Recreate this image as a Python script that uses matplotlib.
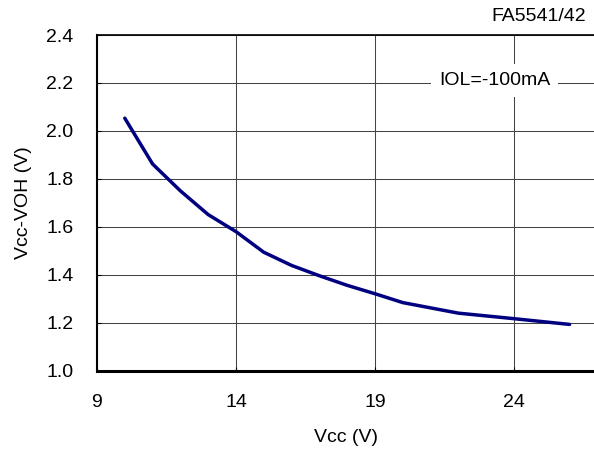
import matplotlib
matplotlib.use("Agg")
import matplotlib.pyplot as plt

plt.rcParams['font.family'] = ['Liberation Sans', 'DejaVu Sans']

vcc = [10, 11, 12, 13, 14, 15, 16, 17, 18, 19, 20, 22, 24, 26]
vdrop = [2.053, 1.862, 1.750, 1.651, 1.580, 1.494, 1.439, 1.396, 1.356, 1.321, 1.284, 1.240, 1.217, 1.193]
xticks = [9, 14, 19, 24]
yticks = [1.0, 1.2, 1.4, 1.6, 1.8, 2.0, 2.2, 2.4]

FS = 14

fig = plt.figure(figsize=(5.94, 4.53), dpi=100)
ax = fig.add_axes([97/594, 1-370.7/453, 1-97/594, (370.7-35)/453])

ax.plot(vcc, vdrop, color='#000080', lw=2.5, solid_capstyle='round', zorder=3)

ax.set_xlim(9, 26.88)
ax.set_ylim(1.0, 2.4)
ax.set_xticks(xticks)
ax.set_yticks(yticks)
ax.set_yticklabels([f"{v:.1f}" for v in yticks])
ax.grid(True, color='#444444', lw=0.75)
ax.tick_params(axis='both', direction='in', length=3, labelsize=FS, colors='black')
ax.tick_params(axis='y', pad=17)
ax.tick_params(axis='x', pad=17)

ax.spines['right'].set_visible(False)
ax.spines['top'].set_linewidth(1.2)
ax.spines['left'].set_linewidth(1.5)
ax.spines['bottom'].set_linewidth(2.2)

ax.set_xlabel('Vcc (V)', fontsize=FS, labelpad=13)
ax.set_ylabel('Vcc-VOH (V)', fontsize=FS, labelpad=10)

ax.text(23.3, 2.21, 'IOL=-100mA', fontsize=FS, ha='center', va='center',
        bbox=dict(facecolor='white', edgecolor='none', pad=6), zorder=4)
fig.text(586/594, 1-16.5/453, 'FA5541/42', fontsize=FS, ha='right', va='center')

fig.savefig('out.png', dpi=100)
